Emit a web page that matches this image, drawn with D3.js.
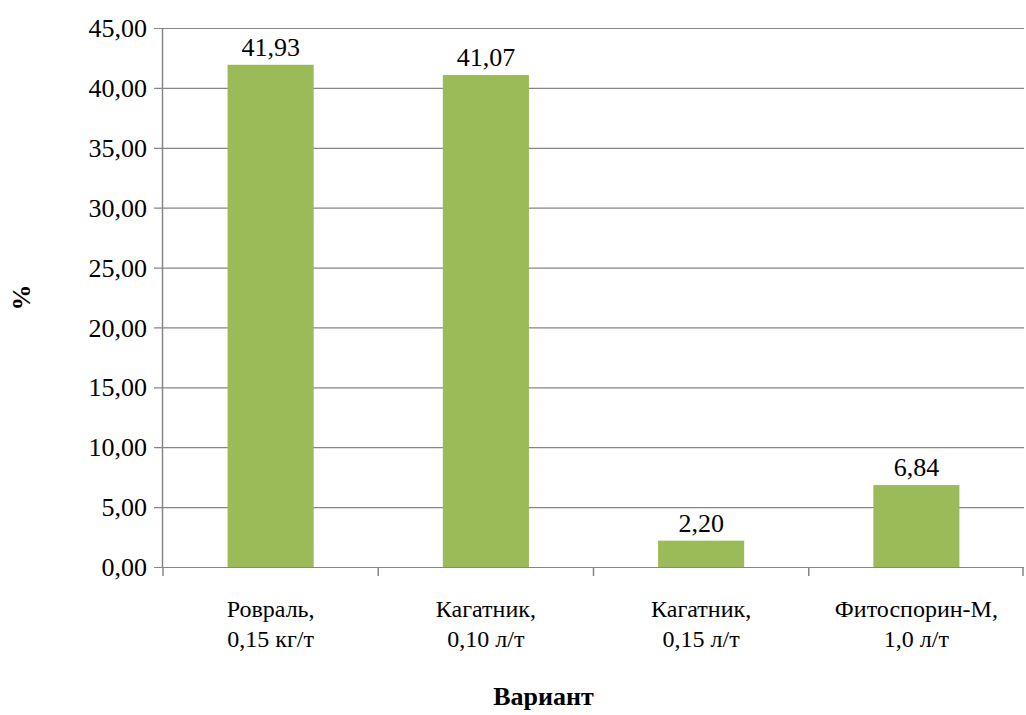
<!DOCTYPE html>
<html>
<head>
<meta charset="utf-8">
<script src="https://cdn.jsdelivr.net/npm/d3@7"></script>
<style>
  body { margin: 0; background: #fff; }
  svg text { font-family: "Times New Roman", "Liberation Serif", serif !important; }
</style>
</head>
<body>
<div id="chart"></div>
<script>
var categories = [["Ровраль,", "0,15 кг/т"], ["Кагатник,", "0,10 л/т"], ["Кагатник,", "0,15 л/т"], ["Фитоспорин-М,", "1,0 л/т"]];
var values = [41.93, 41.07, 2.20, 6.84];
var yTicks = [0, 5, 10, 15, 20, 25, 30, 35, 40, 45];

var w = 1026, h = 715;
var plotLeft = 163, plotRight = 1024, plotTop = 28, plotBottom = 567;
var fontFam = "'Times New Roman', 'Liberation Serif', serif";

var svg = d3.select("#chart").append("svg")
  .attr("width", w)
  .attr("height", h)
  .style("font-family", fontFam);

var x = d3.scaleBand()
  .domain(d3.range(values.length))
  .range([plotLeft, plotRight])
  .paddingInner(0.6)
  .paddingOuter(0.3);

var y = d3.scaleLinear().domain([0, 45]).range([plotBottom, plotTop]);

var fmt = function (v) { return v.toFixed(2).replace(".", ","); };

// grid
svg.selectAll("line.grid")
  .data(yTicks)
  .enter().append("line")
  .attr("class", "grid")
  .attr("x1", plotLeft - 9)
  .attr("x2", plotRight)
  .attr("y1", function (d) { return y(d) + 0.5; })
  .attr("y2", function (d) { return y(d) + 0.5; })
  .attr("stroke", "#868686")
  .attr("stroke-width", 1.2);

// y axis line
svg.append("line")
  .attr("x1", plotLeft - 0.5).attr("x2", plotLeft - 0.5)
  .attr("y1", plotTop).attr("y2", plotBottom + 1)
  .attr("stroke", "#868686").attr("stroke-width", 1.5);

// x axis ticks at category boundaries
var bounds = d3.range(values.length + 1).map(function (i) { return plotLeft + i * (plotRight - plotLeft) / values.length; });
svg.selectAll("line.xtick")
  .data(bounds)
  .enter().append("line")
  .attr("x1", function (d) { return Math.min(d, plotRight - 1); })
  .attr("x2", function (d) { return Math.min(d, plotRight - 1); })
  .attr("y1", plotBottom)
  .attr("y2", plotBottom + 9)
  .attr("stroke", "#868686").attr("stroke-width", 1.5);

// y tick labels
svg.selectAll("text.ylab")
  .data(yTicks)
  .enter().append("text")
  .attr("x", plotLeft - 16)
  .attr("y", function (d) { return y(d); })
  .attr("dy", "0.35em")
  .attr("text-anchor", "end")
  .style("font-family", fontFam)
  .style("font-size", "26px")
  .text(fmt);

// bars
svg.selectAll("rect")
  .data(values)
  .enter().append("rect")
  .attr("x", function (d, i) { return x(i); })
  .attr("width", x.bandwidth())
  .attr("y", function (d) { return y(d); })
  .attr("height", function (d) { return y(0) - y(d); })
  .attr("fill", "#9BBB59");

// value labels
svg.selectAll("text.val")
  .data(values)
  .enter().append("text")
  .attr("x", function (d, i) { return x(i) + x.bandwidth() / 2; })
  .attr("y", function (d) { return y(d) - 9; })
  .attr("text-anchor", "middle")
  .style("font-family", fontFam)
  .style("font-size", "26px")
  .text(fmt);

// category labels
var cat = svg.selectAll("text.cat")
  .data(categories)
  .enter().append("text")
  .attr("text-anchor", "middle")
  .style("font-family", fontFam)
  .style("font-size", "24px");
cat.each(function (d, i) {
  var t = d3.select(this);
  d.forEach(function (line, j) {
    t.append("tspan")
      .attr("x", x(i) + x.bandwidth() / 2)
      .attr("y", 617 + j * 30)
      .style("font-family", fontFam)
      .text(line);
  });
});

// axis titles
svg.append("text")
  .attr("x", (plotLeft + plotRight) / 2 - 50)
  .attr("y", 705)
  .attr("text-anchor", "middle")
  .style("font-family", fontFam)
  .style("font-size", "26px")
  .style("font-weight", "bold")
  .text("Вариант");

svg.append("text")
  .attr("transform", "translate(30," + ((plotTop + plotBottom) / 2) + ") rotate(-90)")
  .attr("text-anchor", "middle")
  .style("font-family", fontFam)
  .style("font-size", "26px")
  .style("font-weight", "bold")
  .text("%");
</script>
</body>
</html>
